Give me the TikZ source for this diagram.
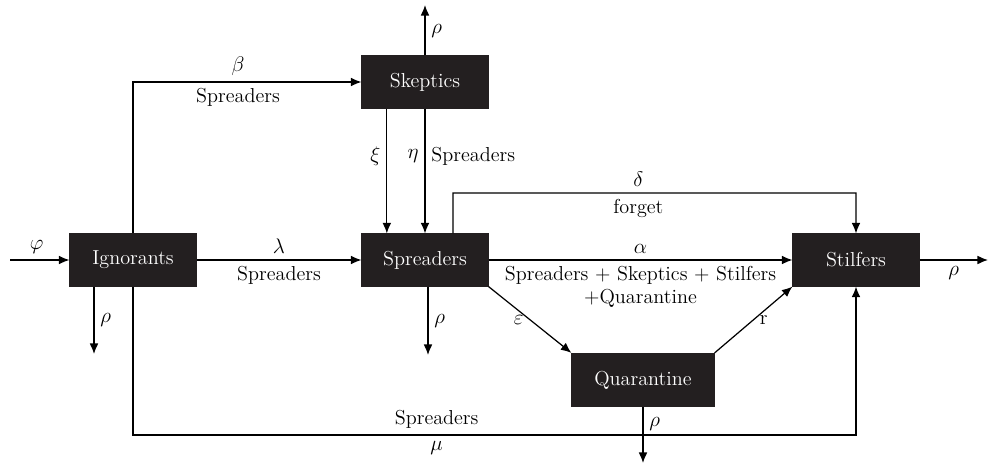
\documentclass[tikz,border=0pt]{standalone}
\usetikzlibrary{arrows.meta,calc}
\definecolor{boxfill}{HTML}{231F20}
\begin{document}
\begin{tikzpicture}[x=0.02cm,y=-0.02cm,>={Latex[length=6pt,width=5pt]},line width=0.7pt,
  box/.style={fill=boxfill,draw=boxfill,text=white,minimum width=2.52cm,minimum height=1.04cm,inner sep=0pt,font=\fontsize{11.5}{13}\selectfont},
  lbl/.style={font=\fontsize{11.5}{13}\selectfont}]
\useasboundingbox (0,0) rectangle (988,464);
\node [box] (ign) at (133,260) {Ignorants};
\node [box] (skep) at (425,82) {Skeptics};
\node [box] (spr) at (425,260) {Spreaders};
\node [box] (stil) at (856,260) {Stilfers};
\node [box,minimum width=2.84cm,minimum height=1.06cm] (quar) at (643,380) {Quarantine};
% free ends and bends
\coordinate (phiin) at (10,260);
\coordinate (ignout) at (94,354);
\coordinate (skepout) at (425,5);
\coordinate (sprout) at (428,355);
\coordinate (quarout) at (643,463);
\coordinate (stilout) at (988,260);
\coordinate (mubend) at (133,435);
\coordinate (fgstart) at ($(spr.north west)!0.72!(spr.north east)$);
\coordinate (fgbend) at (453,193);
\coordinate (xitop) at ($(skep.south west)!0.2!(skep.south east)$);
\coordinate (xibot) at ($(spr.north west)!0.2!(spr.north east)$);
% inflow and outflows
\draw [->] (phiin) -- node [lbl,above,pos=0.45] {$\varphi$} (ign);
\draw [->] (ign.south -| ignout) -- node [lbl,right] {$\rho$} (ignout);
\draw [->] (skep) -- node [lbl,right,pos=0.48] {$\rho$} (skepout);
\draw [->] (spr.south -| sprout) -- node [lbl,right] {$\rho$} (sprout);
\draw [->] (quar) -- node [lbl,right,pos=0.3] {$\rho$} (quarout);
\draw [->] (stil) -- node [lbl,below] {$\rho$} (stilout);
% transitions
\draw [->] (ign.north) |- node [lbl,above,pos=0.73] {$\beta$} node [lbl,below,pos=0.73] {Spreaders} (skep.west);
\draw [->] (ign) -- node [lbl,above] {$\lambda$} node [lbl,below] {Spreaders} (spr);
\draw [->] (ign.south) -- (mubend) -| node [lbl,above,pos=0.21] {Spreaders} node [lbl,below,pos=0.21] {$\mu$} (stil.south);
\draw [->] (xitop) -- node [lbl,left,pos=0.38] {$\xi$} (xibot);
\draw [->] (skep.south) -- node [lbl,left,pos=0.38] {$\eta$} node [lbl,right,pos=0.38] {Spreaders} (spr.north);
\draw [->] (fgstart) -- (fgbend) -| node [lbl,above,pos=0.23] {$\delta$} node [lbl,below,pos=0.23] {forget} (stil.north);
\draw [->] (spr) -- node [lbl,above] {$\alpha$} node [lbl,below,align=center] {Spreaders + Skeptics + Stilfers\\+Quarantine} (stil);
\draw [->] (spr.south east) -- node [lbl,left,pos=0.5] {$\varepsilon$} (quar.north west);
\draw [->] (quar.north east) -- node [lbl,right,pos=0.5] {r} (stil.south west);
\end{tikzpicture}
\end{document}
